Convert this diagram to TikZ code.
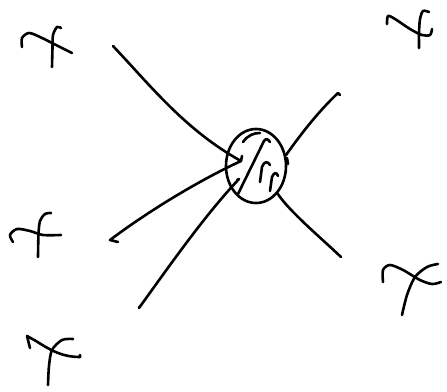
\documentclass[tikz,border=0pt]{standalone}
\usetikzlibrary{shapes.geometric}

\begin{document}
\begin{tikzpicture}[
  x=1pt,y=-1pt,
  pen/.style={draw=black,line width=2.6pt,line cap=round,line join=round},
  blob/.style={pen,ellipse,minimum width=60pt,minimum height=74pt,inner sep=0pt},
]
\useasboundingbox (0,0) rectangle (447,391);

% central blob with its hatching
\node[blob] (blob) at (256,166) {};
\draw[pen] (243,142) .. controls (248,135) and (254,133) .. (260,133);
\draw[pen] (238,194) -- (264,141) .. controls (266,138) and (268,139) .. (270,142);
\draw[pen] (260,182) -- (262,167) .. controls (264,161) and (268,161) .. (270,165);
\draw[pen] (270,191) -- (272,177) .. controls (274,172) and (277,172) .. (278,176);
\draw[pen] (287,158) -- (288,164);

% free ends of the legs
\coordinate (hit) at (241,161);
\coordinate (low) at (239,179);
\coordinate (ulend) at (113,46);
\coordinate (lend) at (110,240);
\coordinate (llend) at (139,308);
\coordinate (urend) at (338,93);
\coordinate (lrend) at (341,257);

% legs
\draw[pen] (ulend) .. controls (150,85) and (185,130) .. (hit) -- ++(1,-5);
\draw[pen] (lend) ++(8,2) -- (lend) .. controls (150,210) and (200,180) .. (hit);
\draw[pen] (llend) ++(1,-2) -- (llend) .. controls (170,265) and (205,215) .. (low) -- ++(-2,1);
\draw[pen] (blob.20) .. controls (303,131) and (320,110) .. (urend) -- ++(2,2);
\draw[pen] (blob.-52) .. controls (290,212) and (320,237) .. (lrend);

% crosses
\draw[pen] plot[smooth] coordinates {(22,47) (22,38) (29,33) (40,37) (56,45) (72,53)};
\draw[pen] plot[smooth] coordinates {(61,28) (57,27) (53,35) (52.5,48) (52,67)};

\draw[pen] plot[smooth] coordinates {(387,24) (388,16) (395,19) (410,29) (422,35) (430,35) (432,29)};
\draw[pen] plot[smooth] coordinates {(429,12) (423,11) (420,19) (419,33) (419,48)};

\draw[pen] plot[smooth] coordinates {(13,242) (10,235) (17,229) (30,231) (43,235) (61,235)};
\draw[pen] plot[smooth] coordinates {(51,213) (45,214) (40,221) (38.5,234) (38,257)};

\draw[pen] plot[smooth] coordinates {(383,282) (383,270) (390,265) (403,270) (420,280) (432,284) (441,282)};
\draw[pen] plot[smooth] coordinates {(438,264) (427,267) (415,277) (407,295) (402,315)};

\draw[pen] (30,348) -- (27,336) -- (36,341) .. controls (50,350) and (62,357) .. (80,357) -- (80,355);
\draw[pen] plot[smooth] coordinates {(73,339) (62,340) (52,350) (49,366) (48,385)};

\end{tikzpicture}
\end{document}
